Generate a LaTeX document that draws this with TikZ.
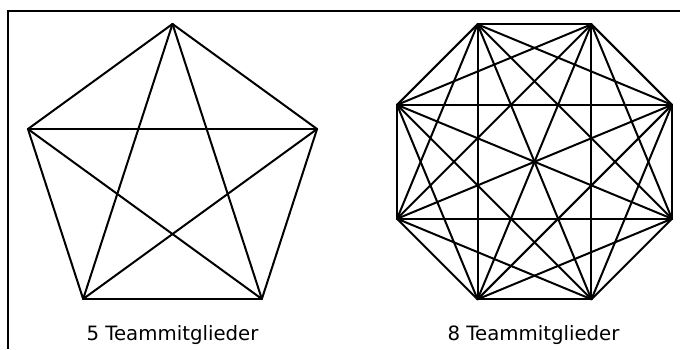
\documentclass[tikz,border=0pt]{standalone}
\usepackage{fontspec}
\setmainfont{DejaVu Sans}
\usetikzlibrary{calc}
\begin{document}
\begin{tikzpicture}[x=0.75pt,y=-0.75pt,
  edge/.style={line width=1.5pt,line cap=round,line join=round},
  frame/.style={line width=1.7pt,line join=miter},
  caption/.style={anchor=base,inner sep=0pt,font=\fontsize{14.8pt}{17pt}\selectfont}]
\useasboundingbox (0,0) rectangle (680,349);
\draw[frame] (8.3,349) -- (8.3,11) -- (680,11);
% pentagon
\foreach \k in {0,...,4}{
  \coordinate (p\k) at ($(172.5,176)+({-sin(72*\k)*152},{-cos(72*\k)*152})$);
}
\foreach \a in {0,...,4}{
  \foreach \b in {0,...,4}{
    \ifnum\a<\b \draw[edge] (p\a) -- (p\b); \fi
  }
}
% octagon
\foreach \k in {0,...,7}{
  \coordinate (o\k) at ($(534.5,161.8)+({cos(22.5+45*\k)*148.8},{sin(22.5+45*\k)*148.8})$);
}
\foreach \a in {0,...,7}{
  \foreach \b in {0,...,7}{
    \ifnum\a<\b \draw[edge] (o\a) -- (o\b); \fi
  }
}
\node[caption] (t5) at (172.5,340.7) {5 Teammitglieder};
\node[caption] (t8) at (533.5,340.7) {8 Teammitglieder};
\end{tikzpicture}
\end{document}
